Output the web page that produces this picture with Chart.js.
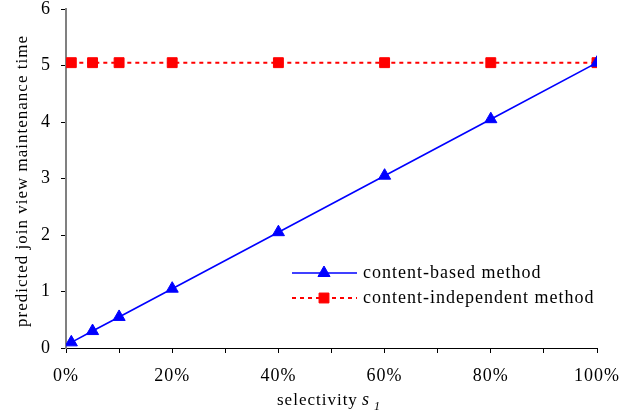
<!DOCTYPE html>
<html>
<head>
<meta charset="utf-8">
<script src="https://cdn.jsdelivr.net/npm/chart.js@4/dist/chart.umd.min.js"></script>
<style>
  html, body { margin: 0; padding: 0; background: #fff; }
  #wrap { width: 636px; height: 417px; position: relative; }
</style>
</head>
<body>
<div id="wrap"><canvas id="c" width="636" height="417"></canvas></div>
<script>
// Selectivity s1 (percent) and predicted maintenance time for each method
const selectivity = [1, 5, 10, 20, 40, 60, 80, 100];
const contentBased = [0.1, 0.3, 0.55, 1.05, 2.05, 3.05, 4.05, 5.05];
const contentIndependent = [5.05, 5.05, 5.05, 5.05, 5.05, 5.05, 5.05, 5.05];
const yTicks = [0, 1, 2, 3, 4, 5, 6];
const xLabelTicks = [0, 20, 40, 60, 80, 100];

const seriesNames = ['content-based method', 'content-independent method'];
const FONT = '"Liberation Serif", "Times New Roman", serif';

const toPoints = (ys) => selectivity.map((x, i) => ({ x, y: ys[i] }));

// Slightly spaced-out lettering for every text on the canvas
const spacing = {
  id: 'spacing',
  beforeDraw(chart) { chart.ctx.letterSpacing = '1px'; }
};

// Axis titles and the in-plot legend
const annotations = {
  id: 'annotations',
  afterDraw(chart) {
    const ctx = chart.ctx;
    ctx.save();
    ctx.letterSpacing = '1px';
    ctx.fillStyle = '#000';

    // y-axis title
    ctx.save();
    ctx.translate(23, 181);
    ctx.rotate(-Math.PI / 2);
    ctx.font = '17px ' + FONT;
    ctx.textAlign = 'center';
    ctx.textBaseline = 'middle';
    ctx.fillText('predicted join view maintenance time', 0, 0);
    ctx.restore();

    // x-axis title: "selectivity s1"
    ctx.font = '17px ' + FONT;
    ctx.textAlign = 'left';
    ctx.textBaseline = 'alphabetic';
    const baseY = 405;
    ctx.fillText('selectivity', 277, baseY);
    ctx.font = 'italic 18px ' + FONT;
    ctx.fillText('s', 362, baseY);
    ctx.font = 'italic 12px ' + FONT;
    ctx.fillText('1', 374, baseY + 5);

    // legend
    const ds = chart.data.datasets;
    const rows = [273, 298];
    rows.forEach((ly, i) => {
      const d = ds[i];
      ctx.save();
      ctx.strokeStyle = d.borderColor;
      ctx.lineWidth = d.borderWidth;
      ctx.setLineDash(d.borderDash || []);
      ctx.beginPath();
      ctx.moveTo(292, ly);
      ctx.lineTo(357, ly);
      ctx.stroke();
      ctx.restore();
      ctx.save();
      ctx.fillStyle = d.pointBackgroundColor;
      ctx.strokeStyle = d.pointBorderColor;
      ctx.lineWidth = 1;
      Chart.helpers.drawPoint(ctx, {
        pointStyle: d.pointStyle,
        rotation: 0,
        radius: d.pointRadius,
        borderWidth: 1
      }, 324, ly);
      ctx.restore();
      ctx.fillStyle = '#000';
      ctx.font = '18px ' + FONT;
      ctx.textBaseline = 'middle';
      ctx.fillText(seriesNames[i], 363, ly);
    });
    ctx.restore();
  }
};

new Chart(document.getElementById('c'), {
  type: 'line',
  data: {
    datasets: [
      {
        label: seriesNames[0],
        data: toPoints(contentBased),
        borderColor: '#0000ff',
        backgroundColor: '#0000ff',
        pointBackgroundColor: '#0000ff',
        pointBorderColor: '#0000ff',
        borderWidth: 1.6,
        pointStyle: 'triangle',
        pointRadius: 7,
        pointBorderWidth: 1,
        tension: 0
      },
      {
        label: seriesNames[1],
        data: toPoints(contentIndependent),
        borderColor: '#ff0000',
        backgroundColor: '#ff0000',
        pointBackgroundColor: '#ff0000',
        pointBorderColor: '#ff0000',
        borderWidth: 2,
        borderDash: [4, 4],
        pointStyle: 'rect',
        pointRadius: 7,
        pointBorderWidth: 1,
        tension: 0
      }
    ]
  },
  options: {
    responsive: false,
    animation: false,
    devicePixelRatio: 1,
    layout: { padding: { top: 0, right: 39, left: 0, bottom: 0 } },
    plugins: {
      legend: { display: false },
      tooltip: { enabled: false }
    },
    scales: {
      x: {
        type: 'linear',
        min: 0,
        max: 100,
        afterBuildTicks(scale) {
          const t = [];
          for (let v = 0; v <= 100; v += 10) t.push({ value: v });
          scale.ticks = t;
        },
        afterFit(scale) { scale.height = 69; },
        border: { display: true, color: '#000', width: 1 },
        grid: {
          drawOnChartArea: false,
          drawTicks: true,
          tickLength: 5,
          color: '#000'
        },
        ticks: {
          autoSkip: false,
          maxRotation: 0,
          padding: 12,
          color: '#000',
          font: { family: FONT, size: 18 },
          callback: (v) => (xLabelTicks.includes(v) ? v + '%' : '')
        }
      },
      y: {
        min: 0,
        max: 6,
        afterBuildTicks(scale) {
          scale.ticks = yTicks.map((v) => ({ value: v }));
        },
        afterFit(scale) {
          scale.width = 66;
          scale.paddingTop = 9;
          scale.paddingBottom = 0;
        },
        border: { display: true, color: '#808080', width: 2 },
        grid: {
          drawOnChartArea: false,
          drawTicks: true,
          tickLength: 5,
          color: '#000'
        },
        ticks: {
          padding: 10,
          color: '#000',
          font: { family: FONT, size: 18 }
        }
      }
    }
  },
  plugins: [spacing, annotations]
});
</script>
</body>
</html>
